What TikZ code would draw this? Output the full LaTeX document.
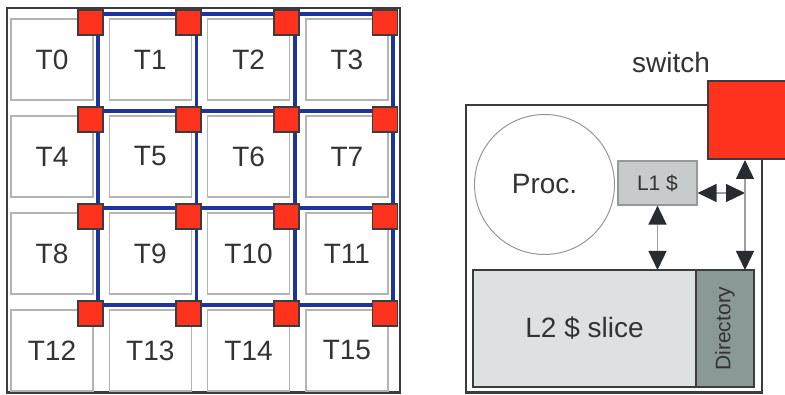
\documentclass[tikz,border=0pt]{standalone}
\usepackage{fontspec}
\setmainfont{Liberation Sans}
\usepackage{xcolor}
\usetikzlibrary{arrows.meta,positioning,calc}
\definecolor{txt}{RGB}{51,51,51}
\definecolor{tileline}{RGB}{180,180,180}
\definecolor{meshblue}{RGB}{28,52,155}
\definecolor{swred}{RGB}{255,50,30}
\definecolor{edge}{RGB}{58,60,64}
\definecolor{procline}{RGB}{150,150,150}
\definecolor{lonefill}{RGB}{200,203,203}
\definecolor{loneline}{RGB}{150,153,153}
\definecolor{ltwofill}{RGB}{222,225,226}
\definecolor{dirfill}{RGB}{138,152,150}
\definecolor{arrowgray}{RGB}{160,160,160}
\definecolor{tipdark}{RGB}{40,43,48}

\begin{document}
\begin{tikzpicture}[x=1pt,y=1pt,
  tile/.style={draw=tileline,line width=1.2pt,minimum width=82pt,minimum height=81pt,
               inner sep=0pt,text=txt,font=\fontsize{28}{30}\selectfont},
  sq/.style={draw=edge,line width=1.8pt,fill=swred,minimum size=25pt,inner sep=0pt},
  link/.style={draw=meshblue,line width=3.8pt},
  frame/.style={draw=edge,line width=2.2pt},
  dbl/.style={draw=arrowgray,line width=1.4pt,{Triangle[length=19pt,width=18pt,color=tipdark,fill=tipdark]}-{Triangle[length=19pt,width=18pt,color=tipdark,fill=tipdark]}},
  node distance=14.8pt and 15.1pt]
\clip (0,0) rectangle (785,394);
% tiled chip
\draw[frame] (7,386) rectangle (400,1.5);
\node[tile] (t0) at (52,334.5) {T0};
\node[tile,right=of t0] (t1) {T1};
\node[tile,right=of t1] (t2) {T2};
\node[tile,right=of t2] (t3) {T3};
\node[tile,below=of t0] (t4) {T4};
\node[tile,right=of t4] (t5) {T5};
\node[tile,right=of t5] (t6) {T6};
\node[tile,right=of t6] (t7) {T7};
\node[tile,below=of t4] (t8) {T8};
\node[tile,right=of t8] (t9) {T9};
\node[tile,right=of t9] (t10) {T10};
\node[tile,right=of t10] (t11) {T11};
\node[tile,below=of t8] (t12) {T12};
\node[tile,right=of t12] (t13) {T13};
\node[tile,right=of t13] (t14) {T14};
\node[tile,right=of t14] (t15) {T15};
\foreach \n in {0,...,15}
  \coordinate (g\n) at ($(t\n.north east)+(4.5,4)$);
\foreach \r in {0,4,8,12} {
  \pgfmathtruncatemacro\e{\r+3}
  \draw[link] (g\r) -- (g\e);}
\foreach \c in {0,1,2,3} {
  \pgfmathtruncatemacro\e{\c+12}
  \draw[link] (g\c) -- (g\e);}
\foreach \n in {0,...,15}
  \node[sq] (s\n) at ($(g\n)+(-8,-8.5)$) {};
% one tile
\draw[frame] (466,289) rectangle (762,1.5);
\node[circle,draw=procline,line width=1pt,minimum size=140pt,inner sep=0pt,
      text=txt,font=\fontsize{28}{30}\selectfont] (proc) at (544.5,209.5) {Proc.};
\node[draw=loneline,fill=lonefill,line width=1.2pt,minimum width=79pt,minimum height=44pt,
      inner sep=0pt,text=txt,font=\fontsize{21}{23}\selectfont] (l1) at (657.5,211) {L1 \$};
\node[fill=ltwofill,minimum width=223pt,minimum height=117pt,inner sep=0pt,outer sep=0pt,
      text=txt,font=\fontsize{28}{30}\selectfont] (l2) at (584.5,65.5) {L2 \$ slice};
\node[fill=dirfill,rotate=90,minimum width=117pt,minimum height=58pt,inner sep=0pt,outer sep=0pt,
      text=txt,font=\fontsize{21}{23}\selectfont] (dir) at (725,65.5) {Directory};
\draw[edge,line width=1.2pt] (l2.north east) -- (l2.south east);
\draw[frame] (l2.north west) rectangle (dir.south west);
\node[draw=edge,line width=2pt,fill=swred,minimum width=93pt,minimum height=78pt,
      inner sep=0pt,anchor=north west] (sw) at (707,314) {};
\node[text=txt,font=\fontsize{28}{30}\selectfont] (swlabel) at (671,331.5) {switch};
\coordinate (bus) at (745,201);
\draw[dbl] (l1.south) -- (l1.south |- l2.north);
\draw[dbl] (bus -| l1.east) -- (bus);
\draw[dbl] (sw.south -| bus) -- (l2.north -| bus);
\end{tikzpicture}
\end{document}
